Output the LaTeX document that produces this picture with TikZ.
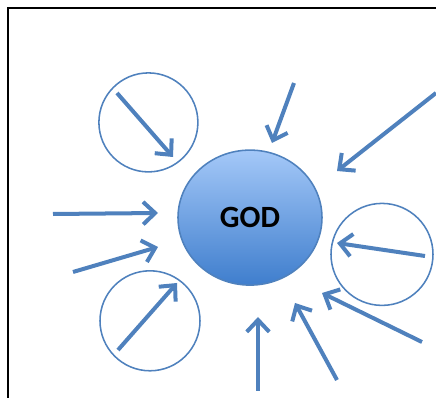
\documentclass[tikz,border=0pt]{standalone}
\usepackage{fontspec}
\newfontfamily\godfont{Carlito}
\usetikzlibrary{arrows.meta, shapes.geometric}

\definecolor{rayblue}{HTML}{4F81BD}
\definecolor{godtop}{HTML}{A4C8F8}
\definecolor{godbottom}{HTML}{3F7ECD}

\begin{document}
\begin{tikzpicture}[
    ray/.style={draw=rayblue, line width=2.85pt, -{Straight Barb[length=8.5pt, width=16pt]}},
    ring/.style={circle, draw=rayblue, line width=1.1pt},
    font=\godfont\bfseries
]
    \useasboundingbox (0, 0) rectangle (10.9, 9.95);

    % frame (only top and left edges visible)
    \coordinate (FL) at (0.2, 0);
    \coordinate (FC) at (0.2, 9.75);
    \coordinate (FR) at (10.9, 9.75);
    \draw[line width=1.4pt] (FL) -- (FC) -- (FR);

    % central node
    \node[ellipse, draw=rayblue, line width=1.1pt, top color=godtop, bottom color=godbottom,
          minimum width=3.6cm, minimum height=3.375cm, font=\godfont\bfseries\fontsize{22}{24}\selectfont]
          (god) at (6.25, 4.51) {GOD};

    % three rings
    \node[ring, minimum size=2.475cm] (c1) at (3.71, 6.89) {};
    \node[ring, minimum size=2.5cm]   (c2) at (3.75, 1.93) {};
    \node[ring, minimum size=2.55cm]  (c3) at (9.55, 3.59) {};

    % arrow ends
    \coordinate (a1) at (2.925, 7.625);  \coordinate (b1) at (4.325, 6.025);  % in c1
    \coordinate (a2) at (2.95, 1.2);     \coordinate (b2) at (4.425, 2.875);  % in c2
    \coordinate (a3) at (10.625, 3.55);  \coordinate (b3) at (8.425, 3.875);  % in c3
    \coordinate (a4) at (7.35, 7.875);   \coordinate (b4) at (6.8, 6.375);    % top
    \coordinate (a5) at (10.9, 7.625);   \coordinate (b5) at (8.425, 5.675);  % top right
    \coordinate (a6) at (1.325, 4.6);    \coordinate (b6) at (3.95, 4.625);   % left
    \coordinate (a7) at (1.825, 3.15);   \coordinate (b7) at (3.95, 3.775);   % left lower
    \coordinate (a8) at (6.45, 0.175);   \coordinate (b8) at (6.45, 2.025);   % bottom
    \coordinate (a9) at (8.425, 0.45);   \coordinate (b9) at (7.375, 2.375);  % bottom right
    \coordinate (a10) at (10.55, 1.4);   \coordinate (b10) at (8.05, 2.625);  % right lower

    \foreach \i in {1,...,10}
        \draw[ray] (a\i) -- (b\i);

\end{tikzpicture}
\end{document}
